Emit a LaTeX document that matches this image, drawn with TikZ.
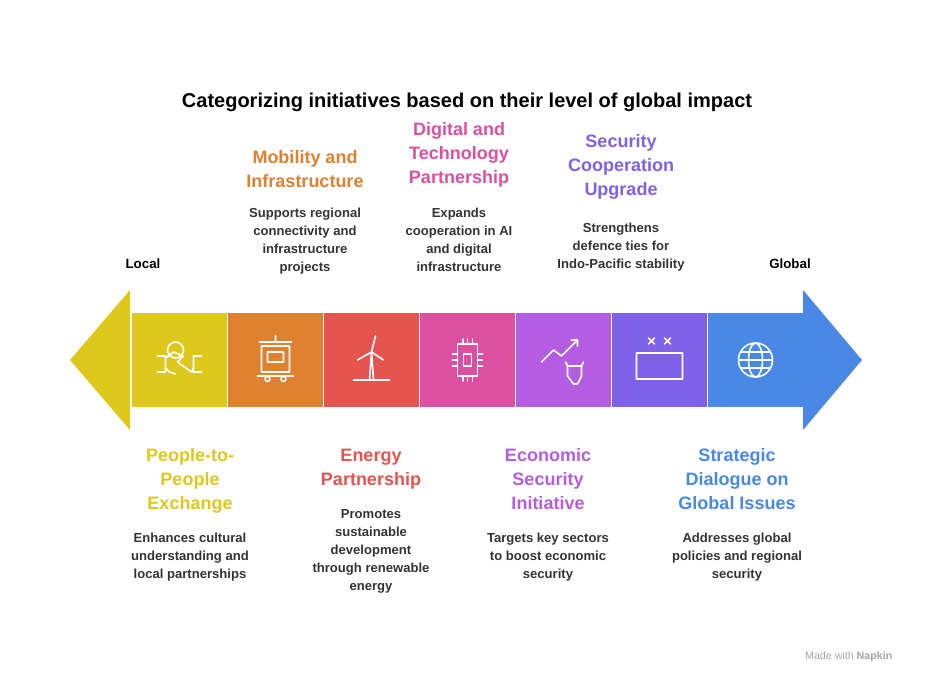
\documentclass[tikz,border=0pt]{standalone}
\usepackage{fontspec}
\setmainfont{Liberation Sans}
\usetikzlibrary{calc}
\definecolor{cyel}{HTML}{DEC81B}
\definecolor{cora}{HTML}{E0812F}
\definecolor{cred}{HTML}{E5544F}
\definecolor{cpink}{HTML}{DD50A1}
\definecolor{cpur}{HTML}{B55DE2}
\definecolor{cvio}{HTML}{7F60E8}
\definecolor{cblue}{HTML}{4A88E5}
\definecolor{cdesc}{HTML}{333333}
\tikzset{
  seg/.style={fill=#1, draw=none, minimum width=71.25pt, minimum height=70.5pt, inner sep=0pt},
  head/.style={font=\bfseries\fontsize{13.5}{18}\selectfont, text=#1, align=center},
  desc/.style={font=\bfseries\fontsize{9.8}{13.5}\selectfont, text=cdesc, align=center},
  icon/.style={draw=white, line width=1.2pt, line cap=round, line join=round}
}
\begin{document}
\begin{tikzpicture}[x=0.75pt, y=-0.75pt]
  \useasboundingbox (0,0) rectangle (934,684);
  % title
  \node (title) at (467,102) {\bfseries\fontsize{15}{18}\selectfont Categorizing initiatives based on their level of global impact};

  % arrow ends
  \fill[cyel] (130,290) -- (130,430) -- (70,360) -- cycle;
  \fill[cblue] (803,290) -- (803,430) -- (862,360) -- cycle;

  % segments
  \foreach \c [count=\i] in {cyel,cora,cred,cpink,cpur,cvio,cblue}
    \node[seg=\c] (s\i) at (132+47.5+96*\i-96,360) {};

  \node (local) at (143,264) {\bfseries\fontsize{10}{12}\selectfont Local};
  \node (global) at (790,264) {\bfseries\fontsize{10}{12}\selectfont Global};

  % top labels
  \node[head=cora, anchor=south] (h2) at (305,192) {Mobility and\\Infrastructure};
  \node[desc, anchor=north] (d2) at (305,203) {Supports regional\\connectivity and\\infrastructure\\projects};
  \node[head=cpink, anchor=south] (h4) at (459,192) {Digital and\\Technology\\Partnership};
  \node[desc, anchor=north] (d4) at (459,203) {Expands\\cooperation in AI\\and digital\\infrastructure};
  \node[head=cvio, anchor=south] (h6) at (621,204) {Security\\Cooperation\\Upgrade};
  \node[desc, anchor=north] (d6) at (621,218) {Strengthens\\defence ties for\\Indo-Pacific stability};

  % bottom labels
  \node[head=cyel, anchor=north] (h1) at (190,444) {People-to-\\People\\Exchange};
  \node[desc, anchor=north] (d1) at (190,528) {Enhances cultural\\understanding and\\local partnerships};
  \node[head=cred, anchor=north] (h3) at (371,444) {Energy\\Partnership};
  \node[desc, anchor=north] (d3) at (371,505) {Promotes\\sustainable\\development\\through renewable\\energy};
  \node[head=cpur, anchor=north] (h5) at (548,444) {Economic\\Security\\Initiative};
  \node[desc, anchor=north] (d5) at (548,528) {Targets key sectors\\to boost economic\\security};
  \node[head=cblue, anchor=north] (h7) at (737,444) {Strategic\\Dialogue on\\Global Issues};
  \node[desc, anchor=north] (d7) at (737,528) {Addresses global\\policies and regional\\security};

  % icons
  \draw[icon] (s1.center) ++(-22,-4) -- ++(8,0) -- ++(0,16) -- ++(-8,0)
        (s1.center) ++(22,-4) -- ++(-8,0) -- ++(0,16) -- ++(8,0)
        (s1.center) ++(-14,-2) -- ++(8,-6) -- ++(10,4) -- ++(-6,6) -- ++(14,10) -- ++(2,-4)
        (s1.center) ++(-14,8) -- ++(4,4) -- ++(6,2)
        (s1.center) ++(-4,-10) circle (8);
  \draw[icon] (s2.center) ++(-16,-18) -- ++(32,0) (s2.center) ++(0,-18) -- ++(0,-6)
        (s2.center) ++(-14,-14) rectangle ++(28,26)
        (s2.center) ++(-8,-8) rectangle ++(16,10)
        (s2.center) ++(-18,16) -- ++(36,0)
        (s2.center) ++(-8,19) circle (2.5) (s2.center) ++(8,19) circle (2.5);
  \draw[icon] (s3.center) ++(0,-8) -- ++(-2,28) -- ++(4,0) -- cycle
        (s3.center) ++(0,-8) -- ++(4,-16) (s3.center) ++(0,-8) -- ++(-14,8)
        (s3.center) ++(0,-8) -- ++(12,8) (s3.center) ++(-18,20) -- ++(36,0);
  \draw[icon] (s4.center) ++(-10,-16) rectangle ++(20,32);
  \foreach \k in {-6,0,6} {
    \draw[icon] ($(s4.center)+(-10,\k)$) -- ++(-5,0);
    \draw[icon] ($(s4.center)+(10,\k)$) -- ++(5,0);
    \draw[icon] ($(s4.center)+(\k*0.8,-16)$) -- ++(0,-5);
    \draw[icon] ($(s4.center)+(\k*0.8,16)$) -- ++(0,5);
  }
  \draw[icon] (s4.center) ++(-4,-6) rectangle ++(8,12);
  \draw[icon] (s5.center) ++(-22,2) -- ++(12,-12) -- ++(8,6) -- ++(16,-16) -- ++(-6,0) ++(6,0) -- ++(0,6)
        (s5.center) ++(4,6) -- ++(-2,-4) (s5.center) ++(18,6) -- ++(2,-4)
        (s5.center) ++(4,6) -- ++(0,10) -- ++(6,8) -- ++(4,0) -- ++(4,-8) -- ++(0,-10) -- cycle;
  \draw[icon] (s6.center) ++(-23,-7) rectangle ++(46,26)
        (s6.center) ++(-11,-22) -- ++(6,6) ++(0,-6) -- ++(-6,6)
        (s6.center) ++(5,-22) -- ++(6,6) ++(0,-6) -- ++(-6,6);
  \draw[icon] (s7.center) circle (17) (s7.center) ellipse (7 and 17)
        (s7.center) ++(-17,0) -- ++(34,0) (s7.center) ++(-15,-8) -- ++(30,0) (s7.center) ++(-15,8) -- ++(30,0);

  \node[text=gray!70, anchor=east] (napkin) at (897,657) {\fontsize{8}{10}\selectfont Made with \textbf{Napkin}};
\end{tikzpicture}
\end{document}
